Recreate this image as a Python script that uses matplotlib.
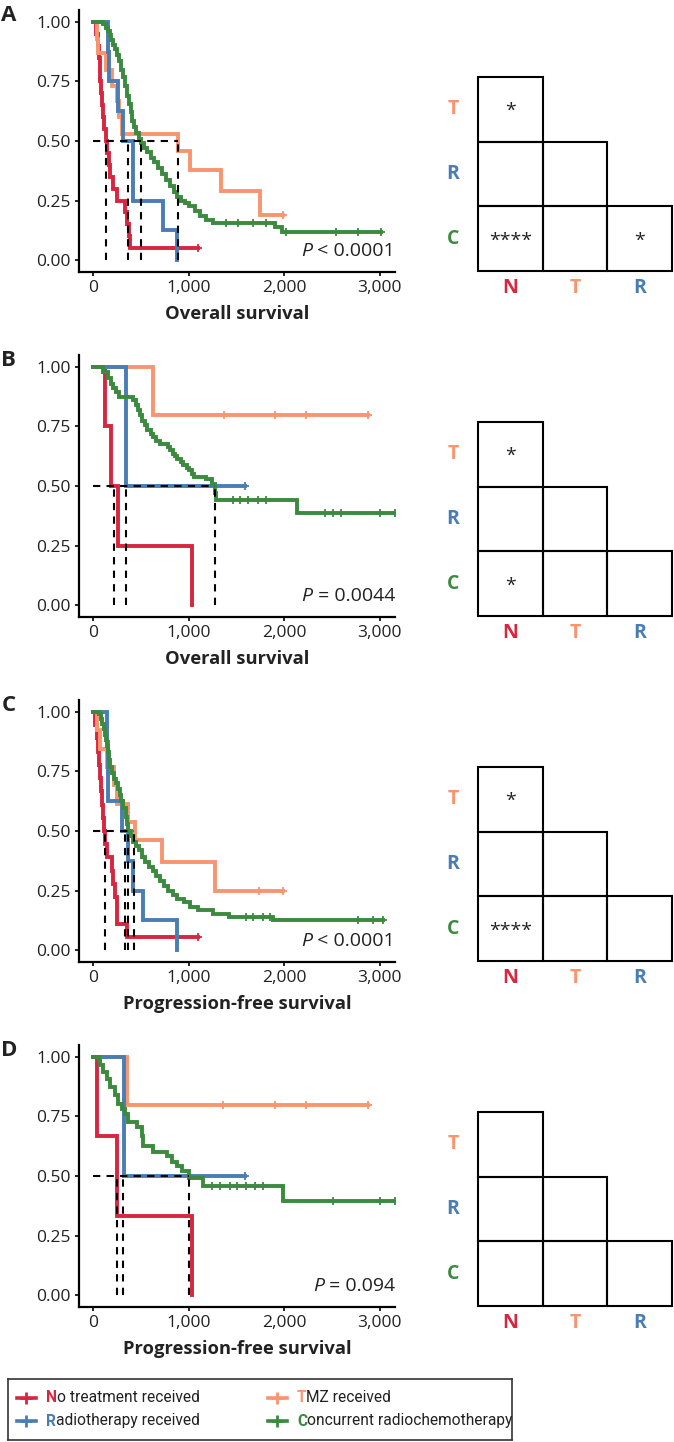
import numpy as np
import matplotlib.pyplot as plt
from matplotlib.patches import Rectangle
from matplotlib.transforms import blended_transform_factory

plt.rcParams['font.family'] = ['Open Sans', 'DejaVu Sans']

group_keys = ['N', 'T', 'R', 'C']
group_names = ['No treatment received', 'TMZ received', 'Radiotherapy received', 'Concurrent radiochemotherapy']
colors = {'N': '#D7263F', 'T': '#F8956F', 'R': '#4A7DB3', 'C': '#3B8A3E'}

# ---- panel A : overall survival ----
A_N_t = [30, 45, 55, 65, 75, 85, 95, 105, 115, 128, 140, 160, 175, 210, 250, 335, 355, 370, 385]
A_N_s = [0.95, 0.90, 0.85, 0.80, 0.75, 0.70, 0.65, 0.60, 0.55, 0.50, 0.45, 0.40, 0.35, 0.30, 0.25, 0.20, 0.15, 0.10, 0.05]
A_N_c = [1100]
A_T_t = [35, 52, 135, 200, 245, 265, 300, 885, 1010, 1340, 1745]
A_T_s = [0.93, 0.87, 0.80, 0.73, 0.67, 0.60, 0.53, 0.46, 0.38, 0.29, 0.19]
A_T_c = [1990]
A_R_t = [150, 160, 262, 314, 418, 732, 872]
A_R_s = [0.875, 0.75, 0.625, 0.5, 0.25, 0.125, 0.0]
A_R_c = []
A_C_t = [100, 130, 150, 170, 190, 210, 230, 250, 270, 290, 310, 330, 350, 370, 390, 410, 430, 450, 475,
         500, 530, 560, 600, 640, 680, 720, 760, 800, 840, 880, 920, 960, 1000, 1060, 1120, 1180, 1250, 1900, 1980]
A_C_s = [0.99, 0.975, 0.96, 0.945, 0.925, 0.905, 0.885, 0.86, 0.835, 0.80, 0.77, 0.73, 0.69, 0.655, 0.62,
         0.585, 0.56, 0.535, 0.51, 0.49, 0.47, 0.455, 0.43, 0.41, 0.385, 0.36, 0.335, 0.31, 0.285, 0.265,
         0.25, 0.24, 0.225, 0.205, 0.185, 0.17, 0.155, 0.14, 0.12]
A_C_c = [1395, 1517, 1674, 1814, 2023, 2546, 2773, 3017]
A_med = [129, 366, 495, 882]
A_p = ' < 0.0001'
A_sig = ['*', '', '', '****', '', '*']

# ---- panel B : overall survival ----
B_N_t = [122, 180, 255, 1029]
B_N_s = [0.75, 0.5, 0.25, 0.0]
B_N_c = []
B_T_t = [621]
B_T_s = [0.8]
B_T_c = [1367, 1901, 2232, 2878]
B_R_t = [342]
B_R_s = [0.5]
B_R_c = [1587]
B_C_t = [100, 150, 180, 210, 240, 270, 420, 450, 470, 490, 510, 540, 560, 600, 620, 660, 700, 780, 800,
         830, 860, 880, 920, 940, 980, 1000, 1030, 1050, 1180, 1240, 1273, 1290, 2130]
B_C_s = [0.98, 0.955, 0.93, 0.91, 0.895, 0.875, 0.86, 0.84, 0.82, 0.80, 0.775, 0.755, 0.735, 0.72, 0.705,
         0.69, 0.678, 0.664, 0.65, 0.636, 0.625, 0.615, 0.60, 0.587, 0.575, 0.566, 0.55, 0.538, 0.531,
         0.51, 0.47, 0.44, 0.385]
B_C_c = [1465, 1535, 1622, 1726, 1814, 2424, 2511, 2599, 3000, 3157]
B_med = [220, 342, 1273]
B_p = ' = 0.0044'
B_sig = ['*', '', '', '*', '', '']

# ---- panel C : progression-free survival ----
C_N_t = [20, 35, 50, 62, 72, 82, 92, 102, 112, 125, 140, 192, 209, 225, 244, 350]
C_N_s = [0.944, 0.889, 0.833, 0.778, 0.722, 0.667, 0.611, 0.556, 0.5, 0.444, 0.389, 0.333, 0.278, 0.222, 0.111, 0.056]
C_N_c = [1100]
C_T_t = [35, 70, 140, 220, 244, 366, 436, 715, 1273]
C_T_s = [0.923, 0.846, 0.769, 0.692, 0.615, 0.538, 0.462, 0.37, 0.246]
C_T_c = [1740, 1988]
C_R_t = [140, 157, 296, 359, 419, 523, 872]
C_R_s = [0.875, 0.625, 0.5, 0.375, 0.25, 0.125, 0.0]
C_R_c = []
C_C_t = [60, 80, 95, 110, 120, 130, 140, 150, 160, 175, 195, 215, 235, 255, 275, 295, 315, 340, 355, 366,
         395, 420, 450, 480, 510, 545, 580, 620, 660, 700, 740, 780, 830, 880, 950, 1010, 1100, 1250, 1420, 1880]
C_C_s = [0.99, 0.97, 0.95, 0.93, 0.905, 0.88, 0.855, 0.83, 0.80, 0.77, 0.745, 0.72, 0.70, 0.675, 0.65,
         0.625, 0.595, 0.56, 0.53, 0.50, 0.48, 0.455, 0.435, 0.42, 0.39, 0.37, 0.35, 0.33, 0.31, 0.29,
         0.27, 0.25, 0.23, 0.215, 0.20, 0.18, 0.168, 0.15, 0.14, 0.126]
C_C_c = [1604, 1674, 1779, 1849, 2773, 2930, 3035]
C_med = [122, 331, 366, 429]
C_p = ' < 0.0001'
C_sig = ['*', '', '', '****', '', '']

# ---- panel D : progression-free survival ----
D_N_t = [35, 251, 1029]
D_N_s = [0.667, 0.333, 0.0]
D_N_c = []
D_T_t = [356]
D_T_s = [0.8]
D_T_c = [1360, 1901, 2232, 2878]
D_R_t = [321]
D_R_s = [0.5]
D_R_c = [1587]
D_C_t = [55, 70, 105, 140, 174, 227, 262, 296, 331, 366, 453, 506, 523, 628, 767, 820, 872, 924, 1005, 1151, 1988]
D_C_s = [0.985, 0.965, 0.937, 0.909, 0.874, 0.838, 0.803, 0.782, 0.761, 0.726, 0.705, 0.67, 0.628, 0.60,
         0.585, 0.557, 0.543, 0.52, 0.49, 0.46, 0.395]
D_C_c = [1238, 1325, 1430, 1500, 1604, 1691, 1779, 2511, 3000, 3157]
D_med = [251, 314, 1005]
D_p = ' = 0.094'
D_sig = ['', '', '', '', '', '']

x_ticks = [0, 1000, 2000, 3000]
x_ticklabels = ['0', '1,000', '2,000', '3,000']
y_ticks = [0, 0.25, 0.5, 0.75, 1.0]
y_ticklabels = ['0.00', '0.25', '0.50', '0.75', '1.00']
x_titles = ['Overall survival', 'Overall survival', 'Progression-free survival', 'Progression-free survival']
panel_letters = ['A', 'B', 'C', 'D']

panels = [
    [(A_N_t, A_N_s, A_N_c), (A_T_t, A_T_s, A_T_c), (A_R_t, A_R_s, A_R_c), (A_C_t, A_C_s, A_C_c)],
    [(B_N_t, B_N_s, B_N_c), (B_T_t, B_T_s, B_T_c), (B_R_t, B_R_s, B_R_c), (B_C_t, B_C_s, B_C_c)],
    [(C_N_t, C_N_s, C_N_c), (C_T_t, C_T_s, C_T_c), (C_R_t, C_R_s, C_R_c), (C_C_t, C_C_s, C_C_c)],
    [(D_N_t, D_N_s, D_N_c), (D_T_t, D_T_s, D_T_c), (D_R_t, D_R_s, D_R_c), (D_C_t, D_C_s, D_C_c)],
]
medians = [A_med, B_med, C_med, D_med]
pvals = [A_p, B_p, C_p, D_p]
sigs = [A_sig, B_sig, C_sig, D_sig]

W, H = 674, 1442
fig = plt.figure(figsize=(W / 100, H / 100), dpi=100)


def px_axes(left, top, width, height):
    return fig.add_axes([left / W, 1 - (top + height) / H, width / W, height / H])


def km_curve(ax, t, s, cens, col):
    end = max([t[-1]] + cens)
    tt = [0] + t + [end]
    ss = [1.0] + s + [s[-1]]
    ax.step(tt, ss, where='post', color=col, lw=2.8, solid_joinstyle='miter')
    if cens:
        idx = np.searchsorted(t, cens, side='right')
        sv = np.array([1.0] + s)[idx]
        ax.plot(cens, sv, '+', color=col, ms=6, mew=1.3)


def sig_matrix(ax, labels):
    # lower triangle: T-N, R-N, R-T, C-N, C-T, C-R
    cells = [(0, 2), (0, 1), (1, 1), (0, 0), (1, 0), (2, 0)]
    for (cx, cy), lab in zip(cells, labels):
        ax.add_patch(Rectangle((cx, cy), 1, 1, fill=False, ec='black', lw=1.5, clip_on=False))
        if lab:
            ax.text(cx + 0.5, cy + 0.47, lab, ha='center', va='center', fontsize=14, color='#222222')
    for i, k in enumerate(['T', 'R', 'C']):
        ax.text(-0.39, 2.5 - i, k, ha='center', va='center', fontsize=14, fontweight='bold', color=colors[k])
    for i, k in enumerate(['N', 'T', 'R']):
        ax.text(0.5 + i, -0.27, k, ha='center', va='center', fontsize=14, fontweight='bold', color=colors[k])
    ax.set_xlim(0, 3)
    ax.set_ylim(0, 3)
    ax.axis('off')


tops = [10, 355, 700, 1045]
for p in range(4):
    ax = px_axes(79, tops[p], 316, 262)
    for k, (t, s, c) in zip(group_keys, panels[p]):
        km_curve(ax, t, s, c, colors[k])

    # median lines
    med = medians[p]
    ax.plot([0, max(med)], [0.5, 0.5], color='black', lw=1.5, dashes=(3.5, 3))
    for m in med:
        ax.plot([m, m], [0, 0.5], color='black', lw=1.5, dashes=(3.5, 3))

    ax.set_xlim(-150, 3160)
    ax.set_ylim(-0.05, 1.05)
    ax.set_xticks(x_ticks)
    ax.set_xticklabels(x_ticklabels)
    ax.set_yticks(y_ticks)
    ax.set_yticklabels(y_ticklabels)
    ax.tick_params(direction='out', length=3, width=1.2, labelsize=12.5, pad=3, colors='black',
                   labelcolor='#222222')
    for sp in ['top', 'right']:
        ax.spines[sp].set_visible(False)
    for sp in ['left', 'bottom']:
        ax.spines[sp].set_linewidth(1.6)
    ax.set_xlabel(x_titles[p], fontsize=13.2, fontweight='bold', labelpad=6, color='#222222')

    # p value, italic P
    trans = blended_transform_factory(ax.transAxes, ax.transData)
    t_rest = ax.text(1.0, 0.0, pvals[p], transform=trans, ha='right', va='bottom', fontsize=14,
                     color='#222222')
    ax.annotate('P', xy=(0, 0), xycoords=t_rest, ha='right', va='bottom', fontsize=14,
                fontstyle='italic', color='#222222')

    fig.text(0.002, 1 - (tops[p] - 5) / H, panel_letters[p], fontsize=16, fontweight='bold', va='top',
             ha='left', color='#222222')

    mx = px_axes(478, tops[p] + 262 - 1 - 194, 194, 194)
    sig_matrix(mx, sigs[p])

# legend, drawn by hand so that the first letter can be coloured
lg = px_axes(8, 1379, 504, 61)
lg.set_xlim(0, 504)
lg.set_ylim(0, 61)
lg.set_xticks([])
lg.set_yticks([])
for sp in lg.spines.values():
    sp.set_linewidth(1.2)
    sp.set_color('#333333')
slots = [(9, 42), (260, 42), (9, 19), (260, 19)]
for (x0, y0), k, name in zip(slots, ['N', 'T', 'R', 'C'],
                             [group_names[0], group_names[1], group_names[2], group_names[3]]):
    lg.plot([x0, x0 + 19], [y0, y0], color=colors[k], lw=2.6)
    lg.plot(x0 + 9.5, y0, '+', color=colors[k], ms=8, mew=2)
    first = lg.text(x0 + 29, y0, name[0], fontsize=11.2, fontweight='bold', color=colors[k],
                    ha='left', va='center', family=['Roboto', 'DejaVu Sans'])
    lg.annotate(name[1:], xy=(1, 0), xycoords=first, ha='left', va='bottom', fontsize=11.2,
                color='#222222', family=['Roboto', 'DejaVu Sans'])

fig.savefig('out.png', dpi=100)
